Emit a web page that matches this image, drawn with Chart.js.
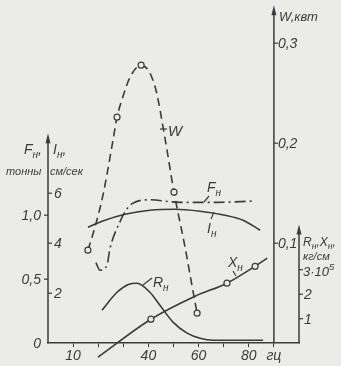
<!DOCTYPE html>
<html>
<head>
<meta charset="utf-8">
<script src="https://cdn.jsdelivr.net/npm/chart.js@4.4.0/dist/chart.umd.min.js"></script>
<style>
  html, body { margin: 0; padding: 0; background: #ebebe8; }
  #wrap { width: 341px; height: 366px; }
</style>
</head>
<body>
<div id="wrap"><canvas id="chart" width="341" height="366"></canvas></div>
<script>
// частота, гц
const xTicks = [10, 20, 30, 40, 50, 60, 70, 80, 90];
const xTickLabels = ["10", "", "", "40", "", "60", "", "80", "гц"];

// W, квт (штриховая)
const wFreq = [15.9, 18.7, 21.9, 25.9, 27.5, 29.9, 32.7, 37.1, 42.6, 46.6, 50.2, 54.6, 58.2, 59.4];
const wPower = [0.093, 0.116, 0.148, 0.203, 0.226, 0.247, 0.266, 0.278, 0.257, 0.205, 0.151, 0.096, 0.046, 0.030];
const wCircleAt = [15.9, 27.5, 37.1, 50.2, 59.4];

// F_н, тонны (штрих-пунктир)
const fFreq = [19.1, 20.7, 23.5, 24.7, 28.7, 31.1, 33.5, 40.6, 52.6, 66.5, 82];
const fForce = [0.63, 0.57, 0.61, 0.74, 0.95, 1.04, 1.09, 1.12, 1.10, 1.10, 1.11];

// I_н, см/сек
const iFreq = [15.9, 22.7, 30.7, 40.6, 50.6, 60.6, 70.5, 77.7, 84.5];
const iVel = [4.64, 4.92, 5.16, 5.32, 5.36, 5.28, 5.12, 4.92, 4.52];

// R_н, X_н, 10^5 кг/см
const rFreq = [21.5, 27.5, 32, 35.5, 40.6, 44.6, 49.8, 55.4, 60.6, 65.7, 85.7];
const rRes = [1.35, 2.08, 2.40, 2.45, 2.08, 1.55, 0.86, 0.41, 0.20, 0.12, 0.12];
const xFreq = [19.9, 41.0, 58.6, 71.3, 82.5, 87.3];
const xReact = [-0.57, 0.98, 1.92, 2.45, 3.14, 3.47];
const xCircleAt = [41.0, 71.3, 82.5];

// шкалы по осям
const fTicks = [0, 0.5, 1.0];
const iTicks = [2, 4, 6];
const wTicks = [0.1, 0.2, 0.3];
const rTicks = [1, 2, 3];

const ink = "#3b3b3b";
const paper = "#ebebe8";
const fontFam = '"Liberation Sans", "DejaVu Sans", sans-serif';

function pts(xs, ys) {
    return xs.map((v, i) => ({ x: v, y: ys[i] }));
}

function circleRadius(list) {
    return ctx => (ctx.raw && list.includes(ctx.raw.x)) ? 3 : 0;
}

function label(ctx, parts, x, y, size) {
    let cx = x;
    parts.forEach(([t, kind]) => {
        const s = kind ? size * 0.72 : size;
        ctx.font = `italic ${s}px ${fontFam}`;
        const dy = kind === "sub" ? size * 0.28 : kind === "sup" ? -size * 0.42 : 0;
        ctx.fillText(t, cx, y + dy);
        cx += ctx.measureText(t).width;
    });
}

function axisLine(ctx, x, y0, y1) {
    ctx.beginPath();
    ctx.moveTo(x, y0);
    ctx.lineTo(x, y1 + 6);
    ctx.stroke();
    ctx.beginPath();
    ctx.moveTo(x, y1);
    ctx.lineTo(x - 2.5, y1 + 10);
    ctx.lineTo(x + 2.5, y1 + 10);
    ctx.closePath();
    ctx.fill();
}

function leader(ctx, x1, y1, x2, y2) {
    ctx.beginPath();
    ctx.moveTo(x1, y1);
    ctx.lineTo(x2, y2);
    ctx.stroke();
}

const axesPlugin = {
    id: "axes",
    afterDraw(chart) {
        const { ctx, scales } = chart;
        const { x, yF, yI, yW, yR } = scales;
        ctx.save();
        ctx.strokeStyle = ink;
        ctx.fillStyle = ink;
        ctx.lineWidth = 1.5;
        ctx.textBaseline = "middle";

        const x0 = x.getPixelForValue(0);
        const xW = x.getPixelForValue(90);
        const xR = x.getPixelForValue(100);
        const base = yF.getPixelForValue(0);

        axisLine(ctx, x0, base, yF.getPixelForValue(1.64));
        axisLine(ctx, xW, base, yW.getPixelForValue(0.338));
        axisLine(ctx, xR, base, yR.getPixelForValue(4.85));

        ctx.lineWidth = 1.2;
        ctx.font = `italic 14px ${fontFam}`;
        ctx.textAlign = "right";
        fTicks.forEach(v => {
            const y = yF.getPixelForValue(v);
            if (v > 0) leader(ctx, x0 - 4, y, x0, y);
            ctx.fillText(v === 0 ? "0" : v.toFixed(1).replace(".", ","), x0 - 7, y + 1);
        });
        ctx.textAlign = "left";
        iTicks.forEach(v => {
            const y = yI.getPixelForValue(v);
            leader(ctx, x0, y, x0 + 4, y);
            ctx.fillText(String(v), x0 + 6, y + 1);
        });
        wTicks.forEach(v => {
            const y = yW.getPixelForValue(v);
            leader(ctx, xW, y, xW + 4, y);
            ctx.fillText(v.toFixed(1).replace(".", ","), xW + 4, y + 1);
        });
        rTicks.forEach(v => {
            const y = yR.getPixelForValue(v);
            leader(ctx, xR, y, xR + 4, y);
            if (v === 3) {
                ctx.textBaseline = "alphabetic";
                label(ctx, [["3·10", ""], ["5", "sup"]], xR + 4, y + 6, 13);
                ctx.textBaseline = "middle";
            } else {
                ctx.font = `italic 14px ${fontFam}`;
                ctx.fillText(String(v), xR + 5, y + 1);
            }
        });

        ctx.textBaseline = "alphabetic";
        // подписи осей
        label(ctx, [["F", ""], ["н", "sub"], [",", ""]], 24, 154, 14);
        label(ctx, [["I", ""], ["н", "sub"], [",", ""]], 53, 154, 14);
        label(ctx, [["тонны", ""]], 6, 175, 11);
        label(ctx, [["см/сек", ""]], 50, 175, 11);
        label(ctx, [["W,квт", ""]], xW + 5, 21, 13);
        label(ctx, [["R", ""], ["н", "sub"], [",X", ""], ["н", "sub"], [",", ""]], xR + 4, 246, 12);
        label(ctx, [["кг/см", ""]], xR + 4, 260, 11);

        // подписи кривых
        leader(ctx, 160, 129, 167, 129);
        label(ctx, [["W", ""]], 168, 136, 15);
        leader(ctx, 204, 202, 209, 196);
        label(ctx, [["F", ""], ["н", "sub"]], 207, 192, 14);
        leader(ctx, 214, 212, 211, 219);
        label(ctx, [["I", ""], ["н", "sub"]], 207, 233, 14);
        leader(ctx, 143, 285, 152, 278);
        label(ctx, [["R", ""], ["н", "sub"]], 153, 287, 14);
        leader(ctx, 233, 271, 236, 276);
        label(ctx, [["X", ""], ["н", "sub"]], 228, 267, 14);

        ctx.restore();
    }
};

const lineBase = {
    borderColor: ink,
    borderWidth: 1.6,
    pointBackgroundColor: paper,
    pointBorderColor: ink,
    pointBorderWidth: 1.2,
    fill: false,
    cubicInterpolationMode: "monotone",
    xAxisID: "x"
};

new Chart(document.getElementById("chart"), {
    type: "line",
    data: {
        datasets: [
            { ...lineBase, label: "W", data: pts(wFreq, wPower), yAxisID: "yW",
              borderDash: [8, 5], pointRadius: circleRadius(wCircleAt) },
            { ...lineBase, label: "Fн", data: pts(fFreq, fForce), yAxisID: "yF",
              borderDash: [11, 4, 2, 4], pointRadius: 0 },
            { ...lineBase, label: "Iн", data: pts(iFreq, iVel), yAxisID: "yI", pointRadius: 0 },
            { ...lineBase, label: "Rн", data: pts(rFreq, rRes), yAxisID: "yR", pointRadius: 0 },
            { ...lineBase, label: "Xн", data: pts(xFreq, xReact), yAxisID: "yR", clip: false,
              pointRadius: circleRadius(xCircleAt) }
        ]
    },
    options: {
        responsive: false,
        animation: false,
        layout: { padding: { left: 48, right: 42, top: 5, bottom: 0 } },
        plugins: { legend: { display: false }, tooltip: { enabled: false } },
        scales: {
            x: {
                type: "linear", min: 0, max: 100, position: "bottom",
                afterBuildTicks: scale => { scale.ticks = xTicks.map(v => ({ value: v })); },
                ticks: {
                    callback: v => xTickLabels[xTicks.indexOf(v)],
                    color: ink, padding: 1, maxRotation: 0, autoSkip: false,
                    font: { family: fontFam, size: 14, style: "italic" }
                },
                grid: { drawOnChartArea: false, drawTicks: true, tickLength: 4, color: ink },
                border: { color: ink, width: 1.5 }
            },
            yF: { type: "linear", display: false, min: 0, max: 2.64 },
            yI: { type: "linear", display: false, min: 0, max: 13.52 },
            yW: { type: "linear", display: false, min: 0, max: 0.338 },
            yR: { type: "linear", display: false, min: 0, max: 13.8 }
        }
    },
    plugins: [axesPlugin]
});
</script>
</body>
</html>
